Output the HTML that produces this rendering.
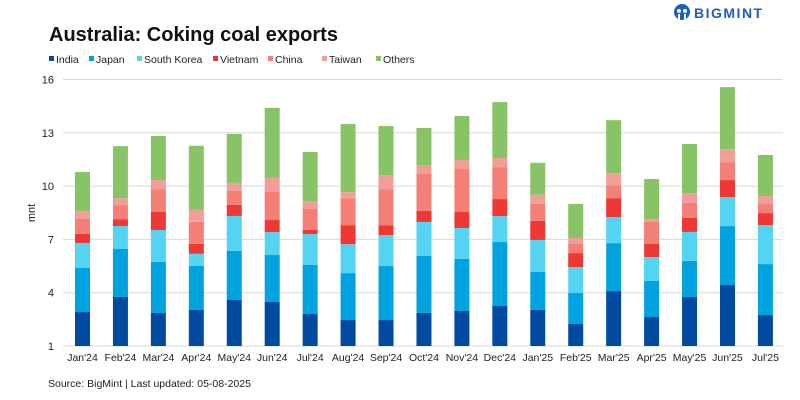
<!DOCTYPE html>
<html><head><meta charset="utf-8"><style>
body{margin:0;background:#fff;width:800px;height:400px;overflow:hidden;font-family:"Liberation Sans",sans-serif}
svg{display:block}
</style></head><body>
<svg id="chart" width="800" height="400" xmlns="http://www.w3.org/2000/svg" font-family="Liberation Sans, sans-serif">
<text x="49" y="41" font-size="20" font-weight="bold" fill="#111">Australia: Coking coal exports</text>
<g>
<circle cx="682" cy="12" r="8" fill="#1b5fc1"/>
<circle cx="679" cy="11" r="2" fill="#fff"/><circle cx="685" cy="11" r="2" fill="#fff"/>
<rect x="678" y="14" width="2" height="8" fill="#fff"/><rect x="684" y="14" width="2" height="8" fill="#fff"/>
<text x="694" y="18" font-size="14" font-weight="bold" fill="#1b5fc1" letter-spacing="1.5">BIGMINT</text>
</g>
<g id="legend"></g>
<g id="grid"></g>
<g id="bars"></g>
<g id="xlabels"></g>
<text transform="translate(35,213) rotate(-90)" font-size="11" fill="#222" text-anchor="middle">mnt</text>
<text x="48" y="387" font-size="10.5" fill="#222">Source: BigMint | Last updated: 05-08-2025</text>
</svg>
<script>
const categories=["Jan'24","Feb'24","Mar'24","Apr'24","May'24","Jun'24","Jul'24","Aug'24","Sep'24","Oct'24","Nov'24","Dec'24","Jan'25","Feb'25","Mar'25","Apr'25","May'25","Jun'25","Jul'25"];
const seriesNames=["India","Japan","South Korea","Vietnam","China","Taiwan","Others"];
const india=[1.91,2.76,1.86,2.03,2.59,2.48,1.80,1.46,1.46,1.86,1.97,2.25,2.03,1.24,3.09,1.63,2.76,3.43,1.74];
const japan=[2.48,2.70,2.87,2.48,2.76,2.64,2.76,2.64,3.04,3.21,2.93,3.60,2.14,1.74,2.70,2.03,2.03,3.32,2.87];
const southKorea=[1.41,1.29,1.80,0.68,1.97,1.29,1.74,1.63,1.74,1.91,1.74,1.46,1.80,1.46,1.46,1.35,1.63,1.63,2.19];
const vietnam=[0.51,0.39,1.01,0.56,0.62,0.68,0.23,1.07,0.56,0.62,0.90,0.96,1.07,0.79,1.07,0.73,0.79,0.96,0.68];
const china=[0.84,0.79,1.29,1.24,0.79,1.58,1.18,1.52,2.03,2.08,2.42,1.80,0.96,0.51,0.73,1.24,0.84,1.01,0.51];
const taiwan=[0.45,0.39,0.51,0.68,0.45,0.79,0.45,0.34,0.79,0.51,0.51,0.51,0.51,0.34,0.68,0.17,0.56,0.73,0.45];
const others=[2.19,2.93,2.48,3.60,2.76,3.94,2.76,3.83,2.76,2.08,2.48,3.15,1.80,1.91,2.98,2.25,2.76,3.49,2.31];
const yTicks=[1,4,7,10,13,16];
const colors=["#004b9f","#00a2e0","#55d3f2","#ee3833","#f47f76","#f19e98","#88c465"];
const series=[india,japan,southKorea,vietnam,china,taiwan,others];
const NS="http://www.w3.org/2000/svg";
const yMin=1,yMax=16,yTop=79.5,yBot=346;
const y=v=>yBot-(v-yMin)/(yMax-yMin)*(yBot-yTop);
const x0=82.5,step=37.94,bw=15;
const xc=i=>x0+i*step;
function mk(tag,attrs,parent){const e=document.createElementNS(NS,tag);for(const k in attrs)e.setAttribute(k,attrs[k]);parent.appendChild(e);return e;}
const grid=document.getElementById('grid');
yTicks.forEach(t=>{
 const l=mk('line',{x1:63,x2:783,y1:y(t),y2:y(t),stroke:"#d9d9d9","stroke-width":1},grid);
 
 
 const tx=mk('text',{x:54,y:y(t)+4,"font-size":11,"text-anchor":"end",fill:"#222"},grid);
 tx.textContent=t;
 
 
});
const bars=document.getElementById('bars');
categories.forEach((c,i)=>{
 let base=yMin;
 series.forEach((s,k)=>{
  const top=base+s[i];
  const r=mk('rect',{x:xc(i)-bw/2,y:y(top),width:bw,height:y(base)-y(top),fill:colors[k]},bars);
  
  
  base=top;
 });
 const tx=mk('text',{x:xc(i),y:361,"font-size":10.5,"text-anchor":"middle",fill:"#222"},document.getElementById('xlabels'));
 tx.textContent=c;
 
 
});
const lg=document.getElementById('legend');
const lx=[49,89,137,213,268,322,376];
seriesNames.forEach((n,k)=>{
 const r=mk('rect',{x:lx[k],y:56,width:5,height:5,fill:colors[k]},lg);
 
 
 const t=mk('text',{x:lx[k]+7,y:63,"font-size":10.5,fill:"#222"},lg);
 t.textContent=n;
 
 
});
</script>
</body></html>
